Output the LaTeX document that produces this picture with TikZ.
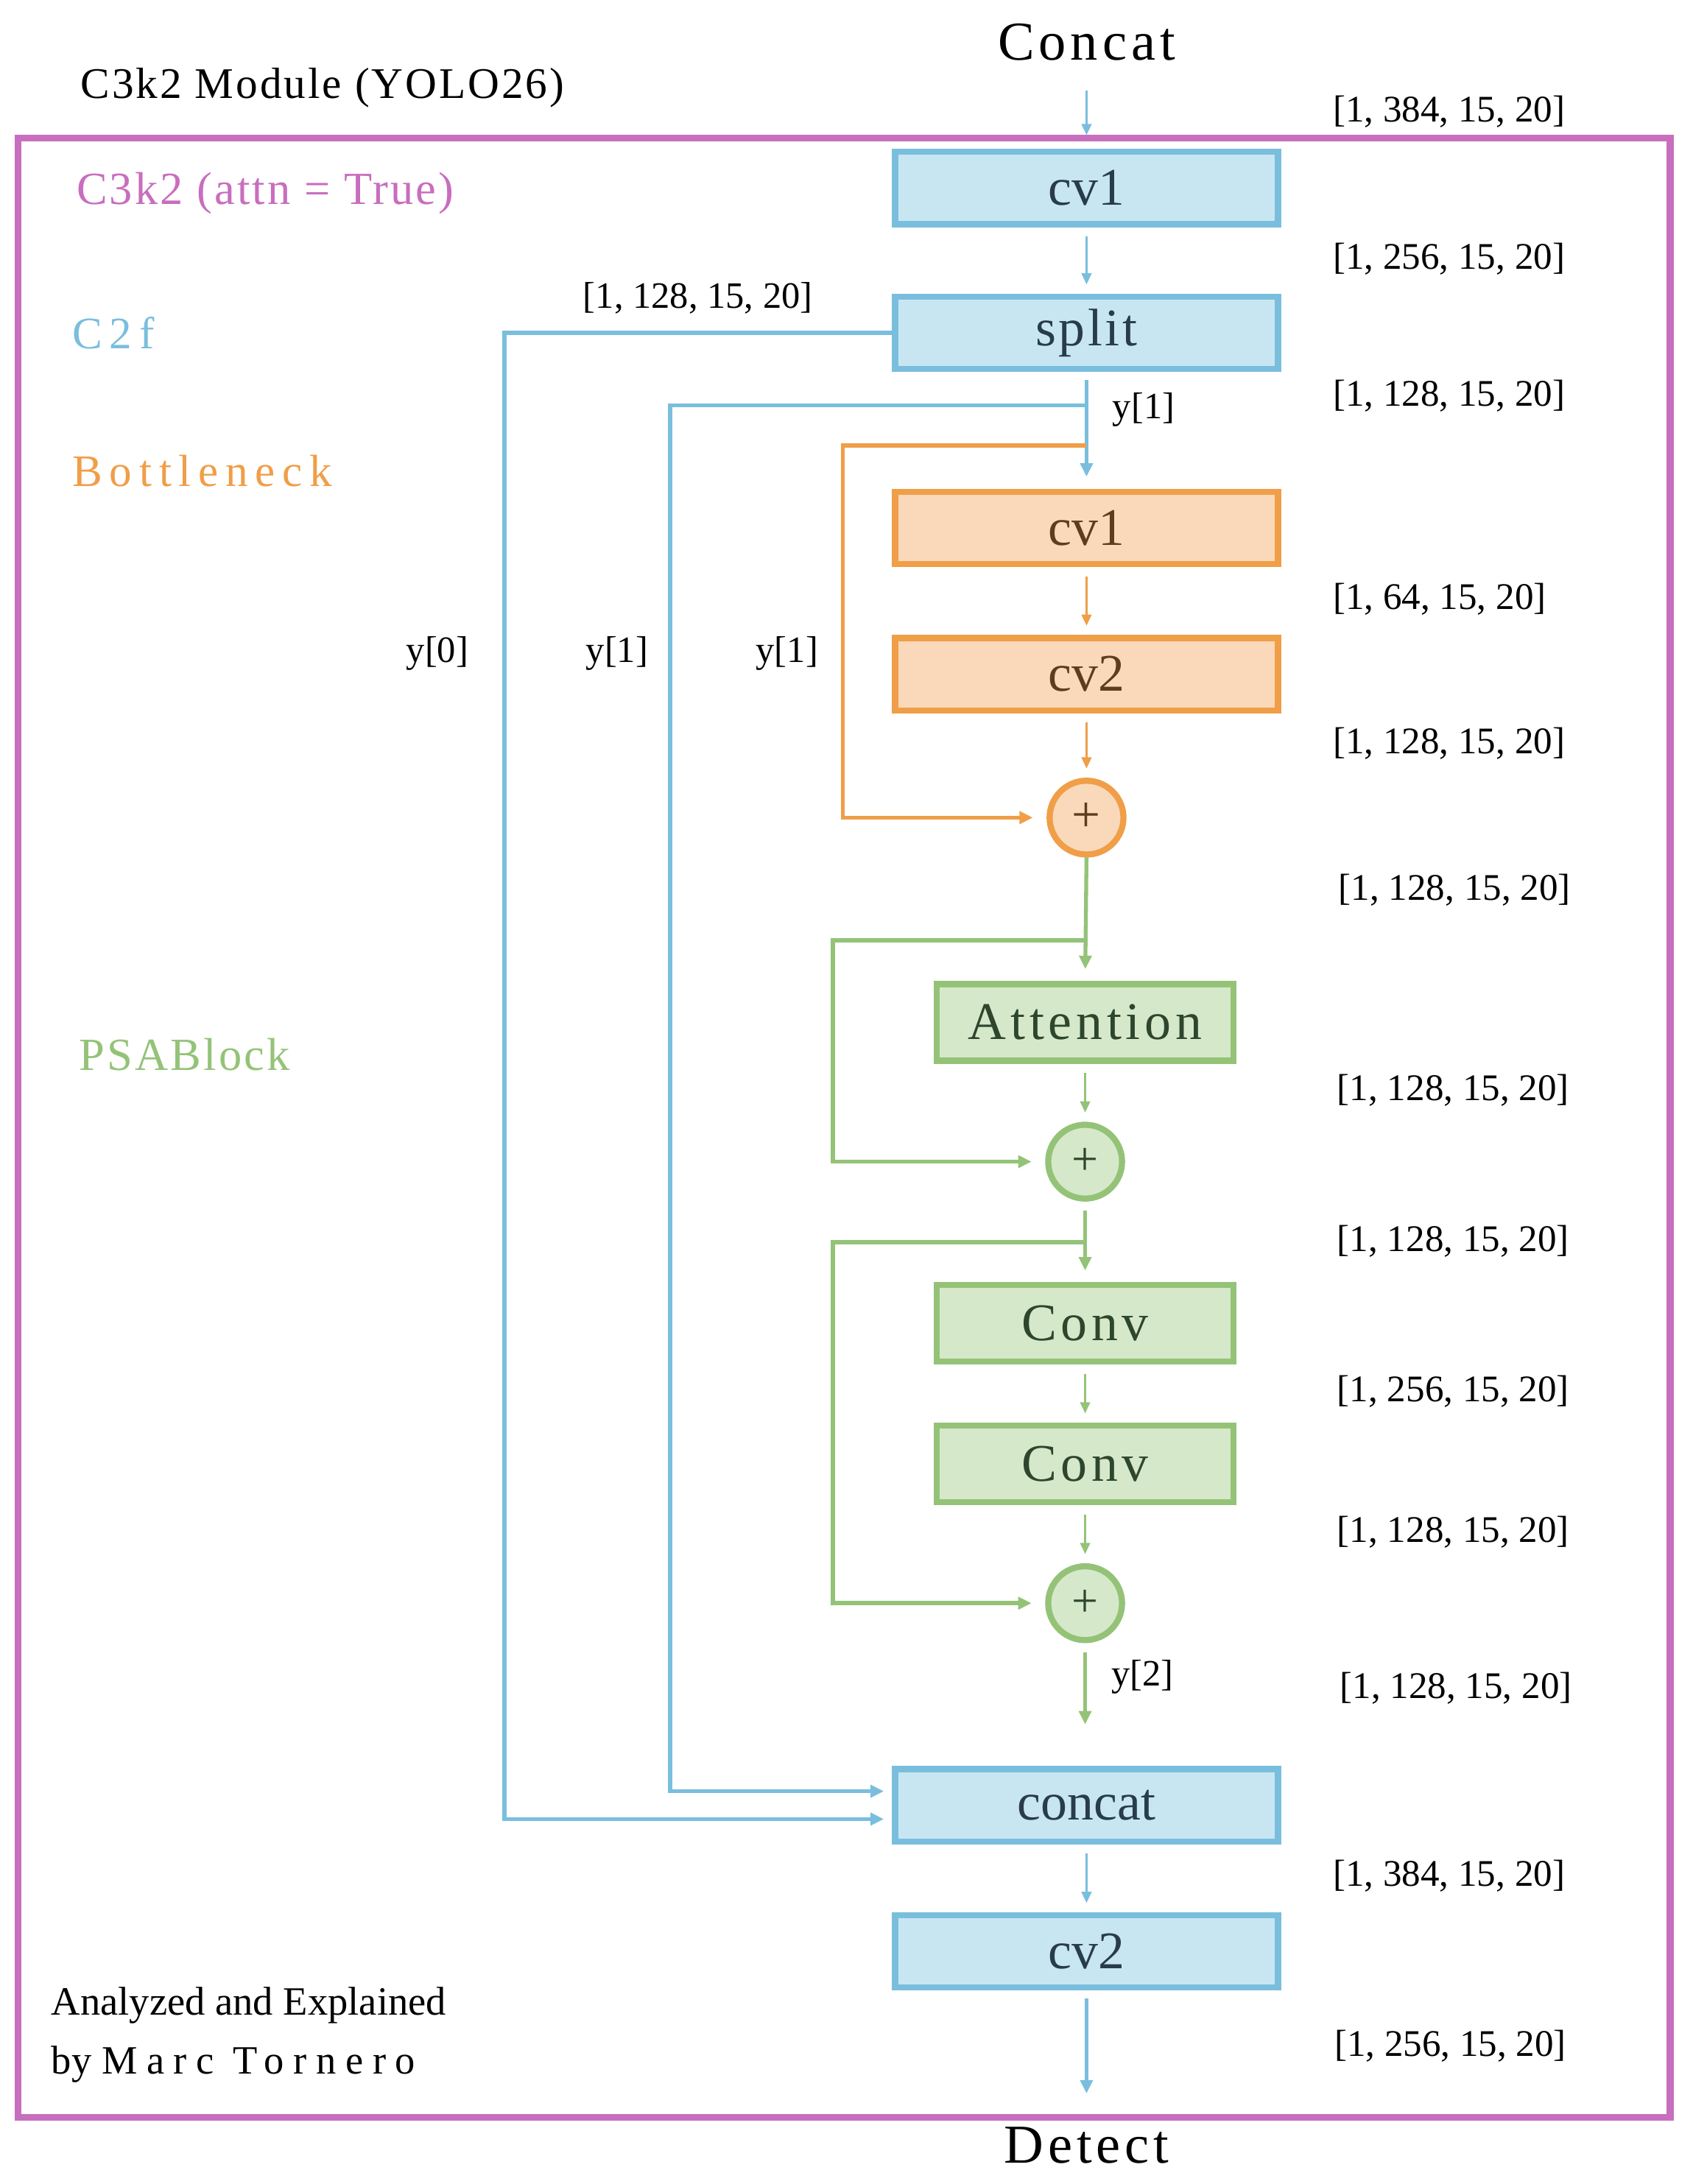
\documentclass[tikz,border=0pt]{standalone}
\usepackage{fontspec}
\setmainfont{Liberation Serif}
\newfontfamily\lightspace[LetterSpace=5]{Liberation Serif}
\newfontfamily\widespace[LetterSpace=8]{Liberation Serif}
\newfontfamily\widerspace[LetterSpace=16]{Liberation Serif}
\usetikzlibrary{arrows.meta}
\definecolor{framecol}{RGB}{200,110,190}
\definecolor{bluefill}{RGB}{200,230,242}
\definecolor{blueline}{RGB}{122,190,222}
\definecolor{bluetext}{RGB}{40,60,75}
\definecolor{orangefill}{RGB}{249,217,186}
\definecolor{orangeline}{RGB}{240,158,72}
\definecolor{orangetext}{RGB}{95,60,30}
\definecolor{greenfill}{RGB}{214,232,202}
\definecolor{greenline}{RGB}{148,195,120}
\definecolor{greentext}{RGB}{45,70,45}
\tikzset{
  >=Triangle,
  every node/.style={outer sep=0mm,inner sep=0mm}
}
\tikzset{stage/.style={
    draw=#1line,
    fill=#1fill,
    text=#1text,
    line width=1.1mm,
    minimum width=68.75mm,
    minimum height=13mm,
    font=\fontsize{27}{30}\selectfont
  },
  stage/.default=blue}
\tikzset{psastage/.style={
    stage=green,
    minimum width=53.25mm,
    minimum height=13.75mm,
    font=\widespace\fontsize{27}{30}\selectfont
  }}
\tikzset{sumnode/.style={
    circle,
    draw=#1line,
    fill=#1fill,
    text=#1text,
    line width=1.1mm,
    minimum size=13.25mm,
    font=\fontsize{24}{26}\selectfont
  }}
\tikzset{link/.style={
    draw=#1line,
    line width=0.3mm,
    -{Triangle[length=2mm,width=1.8mm]},
    shorten <=2.2mm,shorten >=2.2mm
  }}
\tikzset{trunk/.style={
    draw=#1line,
    line width=0.7mm,
    -{Triangle[length=2.4mm,width=2.2mm]}
  }}
\tikzset{bypass/.style={
    draw=#1line,
    line width=0.75mm
  }}
\tikzset{dims/.style={anchor=west,font=\fontsize{19.2}{21}\selectfont}}
\tikzset{tag/.style={font=\fontsize{19}{21}\selectfont}}
\tikzset{section/.style={anchor=west,text=#1,font=\lightspace\fontsize{23.5}{26}\selectfont}}
\tikzset{endpoint/.style={font=\widespace\fontsize{28}{30}\selectfont}}

\begin{document}
\begin{tikzpicture}[x=0.25mm,y=-0.25mm]
  \useasboundingbox (0,0) rectangle (1215,1568);
  \draw [draw=framecol,line width=1.2mm] (13,99) rectangle (1199,1520);

  \node (title) [anchor=west,font=\lightspace\fontsize{22.3}{26}\selectfont] at (58,63) {C3k2 Module (YOLO26)};
  \node (lbl_c3k2) [section=framecol] at (55,139) {C3k2 (attn = True)};
  \node (lbl_c2f) [section=blueline,font=\widerspace\fontsize{23}{24}\selectfont] at (52,239) {C2f};
  \node (lbl_bneck) [section=orangeline,font=\widerspace\fontsize{23}{24}\selectfont] at (52,338) {Bottleneck};
  \node (lbl_psa) [section=greenline,font=\lightspace\fontsize{23.5}{26}\selectfont] at (57,757) {PSABlock};
  \node (credit1) [anchor=west,font=\fontsize{20.5}{22}\selectfont] at (37,1440) {Analyzed and Explained};
  \node (credit2) [anchor=west,font=\fontsize{20.5}{22}\selectfont] at (37,1482) {by {\addfontfeature{LetterSpace=23}Marc Tornero}};

  \node (Concat_in) [endpoint] at (780,30) {Concat};
  \node (Detect_out) [endpoint] at (780,1540) {Detect};

  % C2f outer path
  \node (cv1) [stage] at (780,135) {cv1};
  \node (split) [stage,font=\lightspace\fontsize{27}{30}\selectfont] at (780,239) {split};
  \node (concat) [stage] at (780,1296) {concat};
  \node (cv2) [stage] at (780,1401) {cv2};

  % Bottleneck
  \node (b_cv1) [stage=orange] at (780,379) {cv1};
  \node (b_cv2) [stage=orange] at (780,484) {cv2};
  \node (b_add) [sumnode=orange,font=\fontsize{26}{28}\selectfont] at (780,587) {+};

  % PSABlock
  \node (attn) [psastage] at (779,734) {Attention};
  \node (p_add1) [sumnode=green] at (779,834) {+};
  \node (conv1) [psastage] at (779,950) {Conv};
  \node (conv2) [psastage] at (779,1051) {Conv};
  \node (p_add2) [sumnode=green] at (779,1151) {+};

  \coordinate (y0_turn) at (362,239);
  \coordinate (y1_tap) at (780,291);
  \coordinate (y1_turn) at (481,291);
  \coordinate (b_tap) at (780,320);
  \coordinate (b_turn) at (605,320);
  \coordinate (g_tap1) at (779,675);
  \coordinate (g_turn1) at (598,675);
  \coordinate (g_tap2) at (779,892);
  \coordinate (g_turn2) at (598,892);
  \coordinate (y2_end) at (779,1238);
  \coordinate (out_end) at (780,1503);

  \draw [link=blue,shorten <=5.5mm,shorten >=3mm] (Concat_in.south) -- (cv1.north);
  \draw [link=blue] (cv1.south) -- (split.north);
  \draw [trunk=blue,shorten <=2mm,shorten >=2.7mm] (split.south) -- (b_cv1.north);
  \draw [bypass=blue,-{Triangle[length=2.4mm,width=2.2mm]},shorten >=2mm] (split.west) -- (y0_turn)
  |- ([yshift=-2.5mm] concat.west);
  \draw [bypass=blue,-{Triangle[length=2.4mm,width=2.2mm]},shorten >=2mm] (y1_tap) -- (y1_turn)
  |- ([yshift=2.5mm] concat.west);

  \draw [bypass=orange,-{Triangle[length=2.4mm,width=2.2mm]},shorten >=3mm] (b_tap) -- (b_turn)
  |- (b_add.west);
  \draw [link=orange] (b_cv1.south) -- (b_cv2.north);
  \draw [link=orange] (b_cv2.south) -- (b_add.north);

  \draw [trunk=green,shorten <=0.5mm,shorten >=2.7mm] (b_add.south) -- (attn.north);
  \draw [bypass=green,-{Triangle[length=2.4mm,width=2.2mm]},shorten >=3mm] (g_tap1) -- (g_turn1)
  |- (p_add1.west);
  \draw [link=green] (attn.south) -- (p_add1.north);
  \draw [trunk=green,shorten <=2.2mm,shorten >=2.6mm] (p_add1.south) -- (conv1.north);
  \draw [bypass=green,-{Triangle[length=2.4mm,width=2.2mm]},shorten >=3mm] (g_tap2) -- (g_turn2)
  |- (p_add2.west);
  \draw [link=green] (conv1.south) -- (conv2.north);
  \draw [link=green] (conv2.south) -- (p_add2.north);
  \draw [trunk=green,shorten <=2.2mm] (p_add2.south) -- (y2_end);

  \draw [link=blue] (concat.south) -- (cv2.north);
  \draw [trunk=blue,shorten <=2mm] (cv2.south) -- (out_end);

  % split labels
  \node (tag_split) [tag] at (501,214) {[1, 128, 15, 20]};
  \node (tag_y1) [tag] at (821,294) {y[1]};
  \node (tag_y0l) [tag] at (314,469) {y[0]};
  \node (tag_y1l) [tag] at (443,469) {y[1]};
  \node (tag_y1b) [tag] at (565,469) {y[1]};
  \node (tag_y2) [tag] at (820,1204) {y[2]};

  % tensor shapes
  \node (d_in) [dims] at (957,80) {[1, 384, 15, 20]};
  \node (d_cv1) [dims] at (957,186) {[1, 256, 15, 20]};
  \node (d_split) [dims] at (957,284) {[1, 128, 15, 20]};
  \node (d_bcv1) [dims] at (957,430) {[1, 64, 15, 20]};
  \node (d_bcv2) [dims] at (957,534) {[1, 128, 15, 20]};
  \node (d_badd) [dims] at (961,639) {[1, 128, 15, 20]};
  \node (d_attn) [dims] at (960,783) {[1, 128, 15, 20]};
  \node (d_padd1) [dims] at (960,891) {[1, 128, 15, 20]};
  \node (d_conv1) [dims] at (960,999) {[1, 256, 15, 20]};
  \node (d_conv2) [dims] at (960,1100) {[1, 128, 15, 20]};
  \node (d_padd2) [dims] at (962,1212) {[1, 128, 15, 20]};
  \node (d_concat) [dims] at (957,1347) {[1, 384, 15, 20]};
  \node (d_cv2) [dims] at (958,1469) {[1, 256, 15, 20]};
\end{tikzpicture}
\end{document}
